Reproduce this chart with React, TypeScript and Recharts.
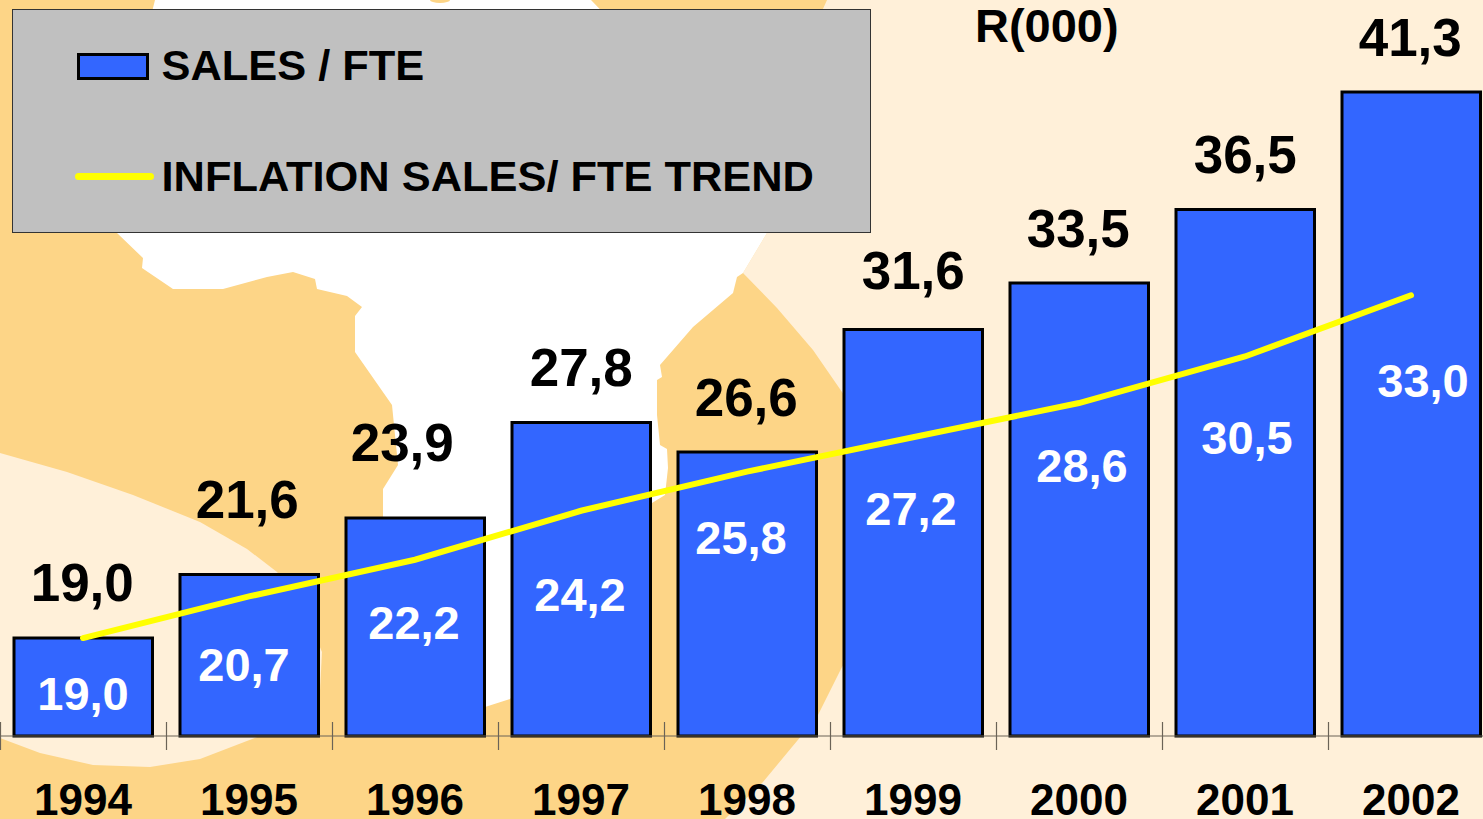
import React from 'react';
import { ComposedChart, Bar, Line, XAxis, YAxis, Legend, LabelList } from 'recharts';

const YEARS = ['1994', '1995', '1996', '1997', '1998', '1999', '2000', '2001', '2002'];
const SALES_FTE = [19.0, 21.6, 23.9, 27.8, 26.6, 31.6, 33.5, 36.5, 41.3];
const INFLATION_TREND = [19.0, 20.7, 22.2, 24.2, 25.8, 27.2, 28.6, 30.5, 33.0];

const data = YEARS.map((year, i) => ({ year, sales: SALES_FTE[i], trend: INFLATION_TREND[i] }));

// label nudges, the slide had them placed by hand
const BAR_LABEL_DX = [-1, -2, -13, 0, -1, 0, -1, 0, -1];
const BAR_LABEL_DY = [-56, -75, -76, -55, -54, -59, -55, -55, -55];
const LINE_LABEL_DX = [0, -5, -1, -1, -6, -2, 3, 2, 12];
const LINE_LABEL_DY = [55, 68, 63, 84, 66, 71, 62, 81, 85];

const FONT = '"Liberation Sans", Arial, sans-serif';
const BLUE = '#3366FF';
const YELLOW = '#FFFF00';
const CREAM = '#FFF0D9';
const ORANGE = '#FDD587';
const BAND = 166;

// backdrop map shapes
const ORANGE_LAND =
  '0,0 827,0 800,60 767,233 743,273 777,308 813,350 842,392 860,420 860,640 842,667 817,717 792,747 763,782 725,819 0,819';
const WHITE_SEA =
  '155,0 591,0 620,30 700,120 770,200 767,233 743,273 737,277 733,293 693,327 660,365 662,377 657,380 657,415 660,445 667,449 668,468 665,495 652,503 600,600 510,699 485,707 400,650 383,516 383,489 398,465 393,415 392,405 355,352 355,316 362,307 347,296 317,289 315,279 293,272 267,277 223,289 173,289 142,268 143,258 117,233 130,100';
const CREAM_LOBE =
  '0,453 67,472 133,495 200,522 247,549 277,572 300,600 322,652 320,690 260,736 200,759 150,767 93,765 40,753 0,738';

const fmt = (v: number) => v.toFixed(1).replace('.', ',');

const BarValue = (props: any) => {
  const { x, y, width, value, index } = props;
  return (
    <text
      x={x + width / 2 + BAR_LABEL_DX[index]}
      y={y + BAR_LABEL_DY[index]}
      textAnchor="middle"
      dominantBaseline="central"
      fontFamily={FONT}
      fontWeight="bold"
      fontSize={53}
      fill="#000"
    >
      {fmt(value)}
    </text>
  );
};

const LineValue = (props: any) => {
  const { x, y, value, index } = props;
  return (
    <text
      x={x + LINE_LABEL_DX[index]}
      y={y + LINE_LABEL_DY[index]}
      textAnchor="middle"
      dominantBaseline="central"
      fontFamily={FONT}
      fontWeight="bold"
      fontSize={47}
      fill="#fff"
    >
      {fmt(value)}
    </text>
  );
};

// ticks sit between the categories, labels on them
const YearTick = (props: any) => {
  const { x, y, payload } = props;
  return (
    <g>
      <line x1={x - BAND / 2 + 0.5} x2={x - BAND / 2 + 0.5} y1={722} y2={750} stroke="#6b6357" strokeWidth={1.2} />
      <text x={x} y={y + 71} textAnchor="middle" fontFamily={FONT} fontWeight="bold" fontSize={44} fill="#000">
        {payload.value}
      </text>
    </g>
  );
};

const LegendBox = () => (
  <div
    style={{
      position: 'relative',
      width: 859,
      height: 224,
      boxSizing: 'border-box',
      background: '#C0C0C0',
      border: '1px solid #333',
      fontFamily: FONT,
      fontWeight: 'bold',
      fontSize: 43.4,
      color: '#000',
      whiteSpace: 'nowrap',
    }}
  >
    <div
      style={{
        position: 'absolute',
        left: 64,
        top: 43,
        width: 72,
        height: 27,
        boxSizing: 'border-box',
        background: BLUE,
        border: '3px solid #000',
      }}
    />
    <div style={{ position: 'absolute', left: 149, top: 29, lineHeight: '52px' }}>SALES / FTE</div>
    <div
      style={{
        position: 'absolute',
        left: 62,
        top: 163,
        width: 79,
        height: 7,
        borderRadius: 4,
        background: YELLOW,
      }}
    />
    <div style={{ position: 'absolute', left: 149, top: 140, lineHeight: '52px' }}>INFLATION SALES/ FTE TREND</div>
  </div>
);

export default function App() {
  return (
    <div style={{ position: 'absolute', left: 0, top: 0, width: 1483, height: 819, overflow: 'hidden', background: CREAM }}>
      <svg width={1483} height={819} style={{ position: 'absolute', left: 0, top: 0 }}>
        <polygon points={ORANGE_LAND} fill={ORANGE} />
        <polygon points={WHITE_SEA} fill="#fff" />
        <ellipse cx={440} cy={0} rx={10} ry={3} fill={ORANGE} />
        <polygon points={CREAM_LOBE} fill={CREAM} />
      </svg>
      <div style={{ position: 'absolute', left: 0, top: 0 }}>
        <ComposedChart width={1494} height={819} data={data} margin={{ top: 1.5, right: 0, bottom: 0, left: 0 }}>
          <XAxis
            dataKey="year"
            interval={0}
            height={83}
            stroke="#6b6357"
            tickLine={false}
            tick={<YearTick />}
          />
          <YAxis hide domain={[15, 45]} />
          <Legend
            layout="vertical"
            align="center"
            verticalAlign="middle"
            content={<LegendBox />}
            wrapperStyle={{ left: 11.5, top: 8.5, width: 859, height: 224, margin: 0 }}
          />
          <Bar
            dataKey="sales"
            name="SALES / FTE"
            barSize={138.5}
            fill={BLUE}
            stroke="#000"
            strokeWidth={3}
            isAnimationActive={false}
          >
            <LabelList dataKey="sales" content={<BarValue />} />
          </Bar>
          <Line
            dataKey="trend"
            name="INFLATION SALES/ FTE TREND"
            type="linear"
            stroke={YELLOW}
            strokeWidth={6}
            strokeLinecap="round"
            dot={false}
            activeDot={false}
            isAnimationActive={false}
          >
            <LabelList dataKey="trend" content={<LineValue />} />
          </Line>
        </ComposedChart>
      </div>
      <div
        style={{
          position: 'absolute',
          left: 975,
          top: -1,
          lineHeight: '54px',
          fontFamily: FONT,
          fontWeight: 'bold',
          fontSize: 47,
          color: '#000',
        }}
      >
        R(000)
      </div>
    </div>
  );
}
